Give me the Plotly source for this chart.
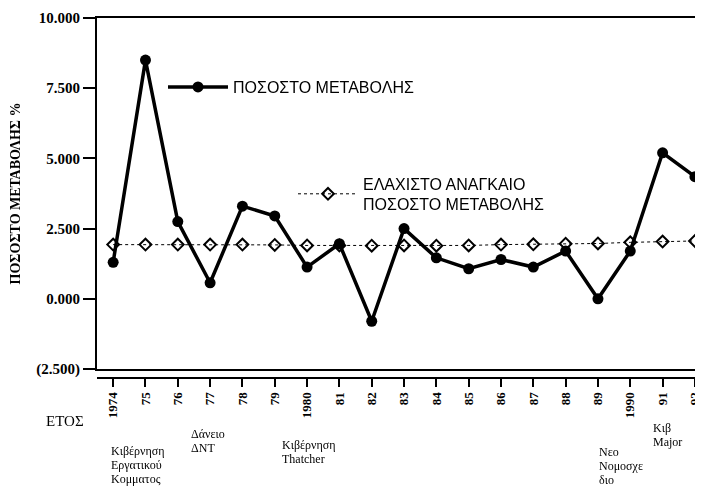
import plotly.graph_objects as go

years = ["1974", "75", "76", "77", "78", "79", "1980", "81", "82", "83",
         "84", "85", "86", "87", "88", "89", "1990", "91", "92"]
pososto = [1.3, 8.5, 2.75, 0.57, 3.3, 2.95, 1.13, 1.96, -0.8, 2.5,
           1.46, 1.07, 1.4, 1.13, 1.7, 0.0, 1.7, 5.2, 4.35]
elaxisto = [1.93, 1.93, 1.93, 1.93, 1.93, 1.92, 1.9, 1.9, 1.89, 1.9,
            1.89, 1.9, 1.93, 1.94, 1.96, 1.97, 2.01, 2.04, 2.06]
y_ticks = [-2.5, 0, 2.5, 5, 7.5, 10]
y_ticktext = ["(2.500)", "0.000", "2.500", "5.000", "7.500", "10.000"]

# the page body has an 8px margin, so the figure sits at (8, 8) in the window
OFF = 8
W, H = 703 - OFF, 488 - OFF
ML, MR, MT, MB = 97 - OFF, 0, 18 - OFF, 110
PW, PH = W - ML - MR, H - MT - MB

def px(x):  # window pixel -> paper fraction
    return (x - OFF - ML) / PW

def py(y):
    return (H - MB - (y - OFF)) / PH

xs = list(range(len(years)))
SERIF = "Liberation Serif, Times New Roman, serif"
SANS = "Liberation Sans, Arial, sans-serif"

fig = go.Figure()
fig.add_trace(go.Scatter(
    x=xs, y=pososto, mode="lines+markers", name="ΠΟΣΟΣΤΟ ΜΕΤΑΒΟΛΗΣ",
    line=dict(color="black", width=3.5),
    marker=dict(symbol="circle", size=11, color="black"),
    legend="legend"))
fig.add_trace(go.Scatter(
    x=xs, y=elaxisto, mode="lines+markers",
    name="ΕΛΑΧΙΣΤΟ ΑΝΑΓΚΑΙΟ<br>ΠΟΣΟΣΤΟ ΜΕΤΑΒΟΛΗΣ",
    line=dict(color="black", width=1, dash="dot"),
    marker=dict(symbol="diamond-open", size=9, color="black", line=dict(width=2)),
    legend="legend2"))
# invisible carrier so the offset year axis is drawn
fig.add_trace(go.Scatter(
    x=xs, y=pososto, xaxis="x2", mode="markers", opacity=0,
    hoverinfo="skip", showlegend=False))

fig.update_layout(
    width=W, height=H,
    margin=dict(l=ML, r=MR, t=MT, b=MB, autoexpand=False),
    paper_bgcolor="white", plot_bgcolor="white",
    xaxis=dict(range=[-0.5, 18.25], showgrid=False, zeroline=False, automargin=False,
               showline=True, linecolor="black", linewidth=2, mirror=True,
               showticklabels=False, ticks=""),
    xaxis2=dict(range=[-0.5, 18.25], overlaying="x", anchor="free", position=0,
                automargin=False,
                showgrid=False, zeroline=False, showline=True, linecolor="black",
                linewidth=2, ticks="outside", ticklen=8, tickwidth=2,
                tickcolor="black", tickmode="array", tickvals=xs, ticktext=years,
                tickangle=-90,
                tickfont=dict(family=SERIF, size=13, color="black", weight="bold")),
    yaxis=dict(range=[-2.5, 10], domain=[9 / PH, 1], showgrid=False, zeroline=False,
               automargin=False,
               showline=True, linecolor="black", linewidth=2,
               ticks="outside", ticklen=12, tickwidth=2, tickcolor="black",
               tickmode="array", tickvals=y_ticks, ticktext=y_ticktext,
               tickfont=dict(family=SERIF, size=15, color="black", weight="bold"),
               title=dict(text="ΠΟΣΟΣΤΟ ΜΕΤΑΒΟΛΗΣ %", standoff=12,
                          font=dict(family=SERIF, size=14, color="black", weight="bold"))),
    legend=dict(x=px(163), y=py(87), xanchor="left", yanchor="middle",
                bgcolor="rgba(0,0,0,0)", itemwidth=60,
                font=dict(family=SANS, size=16, color="black")),
    legend2=dict(x=px(293), y=py(194), xanchor="left", yanchor="middle",
                 bgcolor="rgba(0,0,0,0)", itemwidth=60,
                 font=dict(family=SANS, size=16, color="black")),
    showlegend=True,
)

notes = [
    ("ΕΤΟΣ", 44, 421, 15),
    ("Κιβέρνηση", 109, 451, 12), ("Εργατικού", 109, 465, 12), ("Κομματος", 109, 479, 12),
    ("Δάνειο", 189, 434, 12), ("ΔΝΤ", 189, 448, 12),
    ("Κιβέρνηση", 280, 445, 12), ("Thatcher", 280, 459, 12),
    ("Κιβ", 651, 428, 12), ("Major", 651, 442, 12),
    ("Νεο", 597, 452, 12), ("Νομοσχε", 597, 466, 12), ("διο", 597, 480, 12),
]
for text, x, y, size in notes:
    fig.add_annotation(text=text, xref="paper", yref="paper", x=px(x), y=py(y),
                       xanchor="left", yanchor="middle", showarrow=False, align="left",
                       font=dict(family=SERIF, size=size, color="black"))

fig.write_html("out.html")
